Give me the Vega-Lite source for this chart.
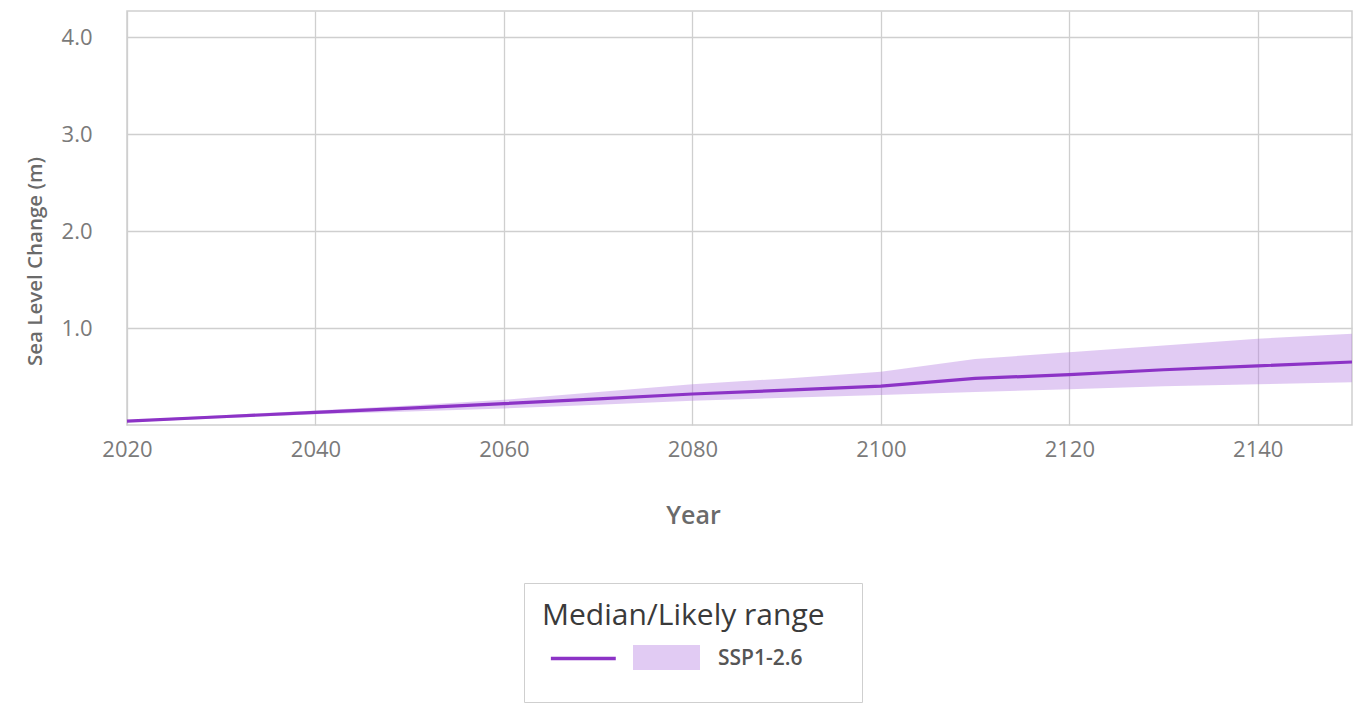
{
  "$schema": "https://vega.github.io/schema/vega-lite/v6.json",
  "autosize": {"type": "none"},
  "width": 1225,
  "height": 414,
  "padding": {"left": 127, "top": 11, "right": 15, "bottom": 281},
  "background": "white",
  "config": {
    "font": "Open Sans",
    "view": {"stroke": "#cfcfcf", "strokeWidth": 1.5}
  },
  "data": {
    "values": [
      {"year": 2020, "median": 0.04, "low": 0.03, "high": 0.05, "scenario": "SSP1-2.6"},
      {"year": 2030, "median": 0.085, "low": 0.07, "high": 0.1, "scenario": "SSP1-2.6"},
      {"year": 2040, "median": 0.13, "low": 0.11, "high": 0.15, "scenario": "SSP1-2.6"},
      {"year": 2050, "median": 0.175, "low": 0.14, "high": 0.2, "scenario": "SSP1-2.6"},
      {"year": 2060, "median": 0.22, "low": 0.17, "high": 0.26, "scenario": "SSP1-2.6"},
      {"year": 2070, "median": 0.27, "low": 0.21, "high": 0.34, "scenario": "SSP1-2.6"},
      {"year": 2080, "median": 0.32, "low": 0.25, "high": 0.42, "scenario": "SSP1-2.6"},
      {"year": 2090, "median": 0.36, "low": 0.28, "high": 0.48, "scenario": "SSP1-2.6"},
      {"year": 2100, "median": 0.4, "low": 0.31, "high": 0.55, "scenario": "SSP1-2.6"},
      {"year": 2110, "median": 0.48, "low": 0.34, "high": 0.68, "scenario": "SSP1-2.6"},
      {"year": 2120, "median": 0.52, "low": 0.37, "high": 0.75, "scenario": "SSP1-2.6"},
      {"year": 2130, "median": 0.57, "low": 0.4, "high": 0.82, "scenario": "SSP1-2.6"},
      {"year": 2140, "median": 0.61, "low": 0.42, "high": 0.89, "scenario": "SSP1-2.6"},
      {"year": 2150, "median": 0.65, "low": 0.44, "high": 0.94, "scenario": "SSP1-2.6"}
    ]
  },
  "encoding": {
    "x": {
      "field": "year",
      "type": "quantitative",
      "scale": {"domain": [2020, 2150], "nice": false, "zero": false},
      "axis": {
        "values": [2020, 2040, 2060, 2080, 2100, 2120, 2140],
        "format": "d",
        "grid": true,
        "gridColor": "#cfcfcf",
        "gridWidth": 1.3,
        "domain": false,
        "ticks": false,
        "labelFlush": false,
        "labelFont": "Open Sans",
        "labelFontSize": 22,
        "labelColor": "#7a7a7a",
        "labelPadding": 14,
        "title": "Year",
        "titleFont": "Open Sans",
        "titleFontSize": 25,
        "titleFontWeight": 600,
        "titleColor": "#6a6a6a",
        "titleX": 566,
        "titleY": 98,
        "titleAlign": "center",
        "titleBaseline": "alphabetic"
      }
    }
  },
  "layer": [
    {
      "mark": {"type": "area", "opacity": 0.4},
      "encoding": {
        "y": {
          "field": "low",
          "type": "quantitative",
          "scale": {"domain": [0, 4.27], "nice": false, "zero": true},
          "axis": {
            "values": [1, 2, 3, 4],
            "format": ".1f",
            "grid": true,
            "gridColor": "#cfcfcf",
            "gridWidth": 1.3,
            "domain": false,
            "ticks": false,
            "labelFlush": false,
            "labelFont": "Open Sans",
            "labelFontSize": 22,
            "labelColor": "#7a7a7a",
            "labelPadding": 35,
            "title": "Sea Level Change (m)",
            "titleFont": "Open Sans",
            "titleFontSize": 20.5,
            "titleFontWeight": 600,
            "titleColor": "#6a6a6a",
            "titleX": -86,
            "titleY": 250,
            "titleAlign": "center",
            "titleBaseline": "alphabetic"
          }
        },
        "y2": {"field": "high"},
        "fill": {
          "field": "scenario",
          "type": "nominal",
          "scale": {"range": ["#b57ee0"]},
          "legend": {
            "orient": "none",
            "legendX": 506,
            "legendY": 634,
            "title": null,
            "padding": 0,
            "labelExpr": "''",
            "symbolType": "M-1,-1H4.36V1H-1Z",
            "symbolSize": 625,
            "symbolStrokeWidth": 0,
            "symbolOpacity": 0.4
          }
        }
      }
    },
    {
      "mark": {"type": "line", "strokeWidth": 3.2},
      "encoding": {
        "y": {"field": "median", "type": "quantitative"},
        "stroke": {
          "datum": "SSP1-2.6",
          "type": "nominal",
          "scale": {"range": ["#8c33c6"]},
          "legend": {
            "orient": "none",
            "legendX": 397,
            "legendY": 572,
            "title": "Median/Likely range",
            "titleFont": "Open Sans",
            "titleFontSize": 30,
            "titleFontWeight": "normal",
            "titleColor": "#3a3a3a",
            "titleLimit": 600,
            "titlePadding": -2,
            "padding": 18,
            "strokeColor": "#cfcfcf",
            "symbolType": "M-0.75,0H1.61M9.63,0.64",
            "symbolSize": 3025,
            "symbolStrokeWidth": 3.5,
            "labelFont": "Open Sans",
            "labelFontSize": 21,
            "labelFontWeight": 600,
            "labelColor": "#555555",
            "labelOffset": 117
          }
        }
      }
    }
  ]
}
